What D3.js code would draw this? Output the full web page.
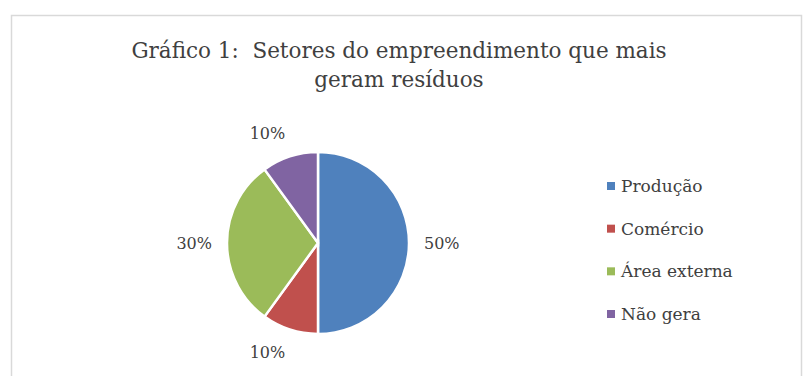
<!DOCTYPE html>
<html><head><meta charset="utf-8">
<script src="https://cdn.jsdelivr.net/npm/d3@7"></script>
<style>body{margin:0;background:#fff}</style>
</head><body>
<svg id="c" width="803" height="376"></svg>
<script>
const categories = ["Produção", "Comércio", "Área externa", "Não gera"];
const values = [50, 10, 30, 10];
const labels = ["50%", "10%", "30%", "10%"];
const colors = ["#4F81BD", "#C0504D", "#9BBB59", "#8064A2"];
const titleLines = ["Gráfico 1:  Setores do empreendimento que mais", "geram resíduos"];

const svg = d3.select("#c");
const font = "'DejaVu Serif', 'Liberation Serif', serif";

svg.append("rect").attr("x", 11.5).attr("y", 15.5).attr("width", 790).attr("height", 370)
  .attr("fill", "#fff").attr("stroke", "#d9d9d9").attr("stroke-width", 1.5);

svg.append("g").selectAll("text").data(titleLines).join("text")
  .attr("x", 399).attr("y", (d, i) => 58 + i * 29)
  .attr("text-anchor", "middle").attr("font-family", font).attr("font-size", 21.5)
  .attr("fill", "#404040").attr("xml:space", "preserve").style("white-space", "pre").text(d => d);

const cx = 318, cy = 243, r = 91;
const data = categories.map((c, i) => ({ c, v: values[i], l: labels[i], col: colors[i] }));
const pie = d3.pie().sort(null).value(d => d.v);
const arc = d3.arc().innerRadius(0).outerRadius(r);
const labArc = d3.arc().innerRadius(r + 15).outerRadius(r + 15);
const arcs = pie(data);
const g = svg.append("g").attr("transform", `translate(${cx},${cy})`);
g.selectAll("path").data(arcs).join("path")
  .attr("d", arc).attr("fill", d => d.data.col).attr("stroke", "#fff").attr("stroke-width", 2.5);
const lt = g.selectAll("text").data(arcs).join("text")
  .attr("text-anchor", "middle").attr("dy", "0.35em")
  .attr("font-family", font).attr("font-size", 16).attr("fill", "#404040")
  .text(d => d.data.l);
lt.each(function (d) {
  const w = this.getComputedTextLength(), h = 17;
  const [px, py] = labArc.centroid(d);
  const sx = Math.abs(px) < 1 ? 0 : Math.sign(px), sy = Math.abs(py) < 1 ? 0 : Math.sign(py);
  d3.select(this).attr("transform", `translate(${px + sx * w / 2},${py + sy * h / 2})`);
});

const y = d3.scalePoint().domain(categories).range([186, 314]);
const lg = svg.append("g");
const items = lg.selectAll("g").data(data).join("g").attr("transform", d => `translate(607,${y(d.c)})`);
items.append("rect").attr("x", 0).attr("y", -4).attr("width", 8).attr("height", 8).attr("fill", d => d.col);
items.append("text").attr("x", 14).attr("dy", "0.35em").attr("font-family", font).attr("font-size", 17)
  .attr("fill", "#404040").text(d => d.c);
</script>
</body></html>
